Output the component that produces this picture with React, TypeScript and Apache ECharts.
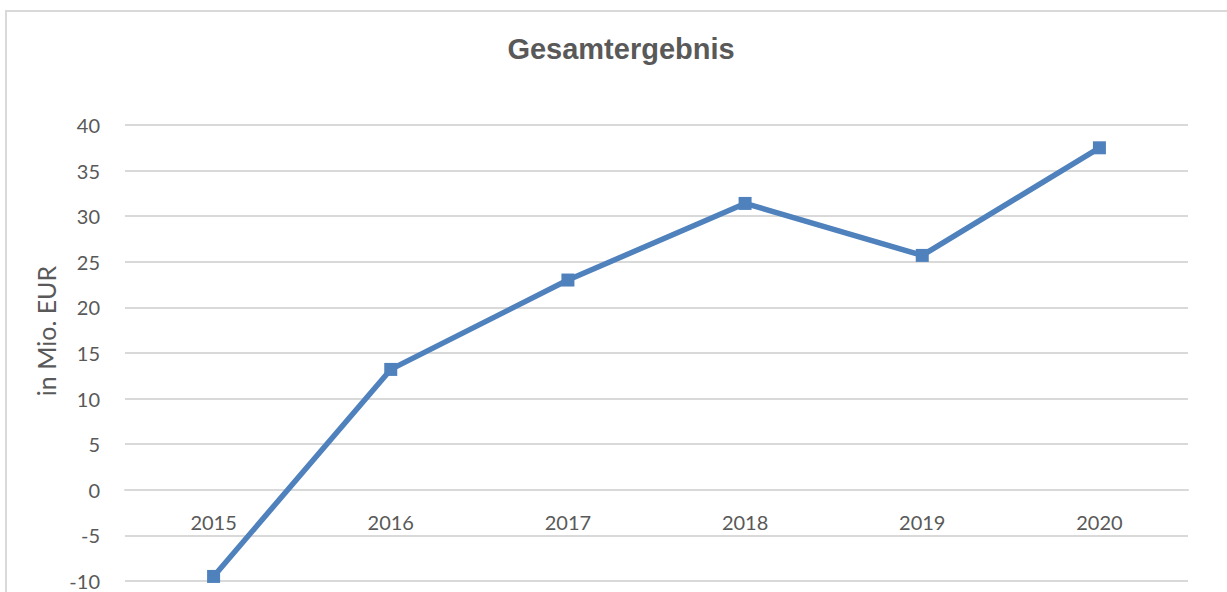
import React, { useEffect, useRef } from "react";
import * as echarts from "echarts";

const title = "Gesamtergebnis";
const yAxisName = "in Mio. EUR";
const years = ["2015", "2016", "2017", "2018", "2019", "2020"];
const values = [-9.5, 13.2, 23.0, 31.4, 25.7, 37.5];
const yMin = -10;
const yMax = 40;
const yStep = 5;

export default function App() {
  const ref = useRef<HTMLDivElement>(null);
  useEffect(() => {
    document.body.style.margin = "0";
    const chart = echarts.init(ref.current!, null, { renderer: "svg" });
    const gridBottom = 11;
    chart.setOption({
      animation: false,
      backgroundColor: "#ffffff",
      title: {
        text: title,
        left: 616,
        textAlign: "center",
        top: 29,
        textStyle: {
          fontFamily: "Liberation Sans",
          fontWeight: "bold",
          fontSize: 29,
          color: "#595959",
        },
      },
      graphic: [
        {
          type: "rect",
          shape: { x: 6, y: 11, width: 1400, height: 800 },
          style: { fill: "none", stroke: "#d9d9d9", lineWidth: 2 },
          silent: true,
          z: -1,
        },
        {
          type: "text",
          x: 46,
          y: 331,
          rotation: Math.PI / 2,
          style: {
            text: yAxisName,
            font: "25px Lato",
            fill: "#595959",
            textAlign: "center",
            textVerticalAlign: "middle",
          },
        },
      ],
      grid: {
        left: 125,
        right: 39,
        top: 125,
        bottom: gridBottom,
        containLabel: false,
        outerBoundsMode: "none",
      },
      xAxis: {
        type: "category",
        data: years,
        boundaryGap: true,
        position: "bottom",
        axisLine: { show: true, onZero: false, lineStyle: { color: "#d9d9d9", width: 2 } },
        axisTick: { show: false },
        axisLabel: { fontFamily: "Lato", fontSize: 20, color: "#595959", margin: 22 },
        splitLine: { show: false },
      },
      yAxis: {
        type: "value",
        min: yMin,
        max: yMax,
        interval: yStep,
        axisLine: { show: false },
        axisTick: { show: false },
        axisLabel: { fontFamily: "Lato", fontSize: 20, color: "#595959", margin: 25 },
        splitLine: { show: true, lineStyle: { color: "#d9d9d9", width: 2 } },
      },
      series: [
        {
          type: "line",
          data: values,
          symbol: "rect",
          symbolSize: 13,
          lineStyle: { color: "#4f81bd", width: 5.5 },
          itemStyle: { color: "#4f81bd" },
        },
      ],
    });
    // place the category axis on the value 0, using the value axis' own scale
    const zeroY = chart.convertToPixel({ yAxisIndex: 0 }, 0) as number;
    const bottomY = chart.convertToPixel({ yAxisIndex: 0 }, yMin) as number;
    chart.setOption({ xAxis: { offset: zeroY - bottomY } });
    return () => chart.dispose();
  }, []);
  return <div ref={ref} style={{ position: "absolute", left: 0, top: 0, width: 1227, height: 592 }} />;
}
